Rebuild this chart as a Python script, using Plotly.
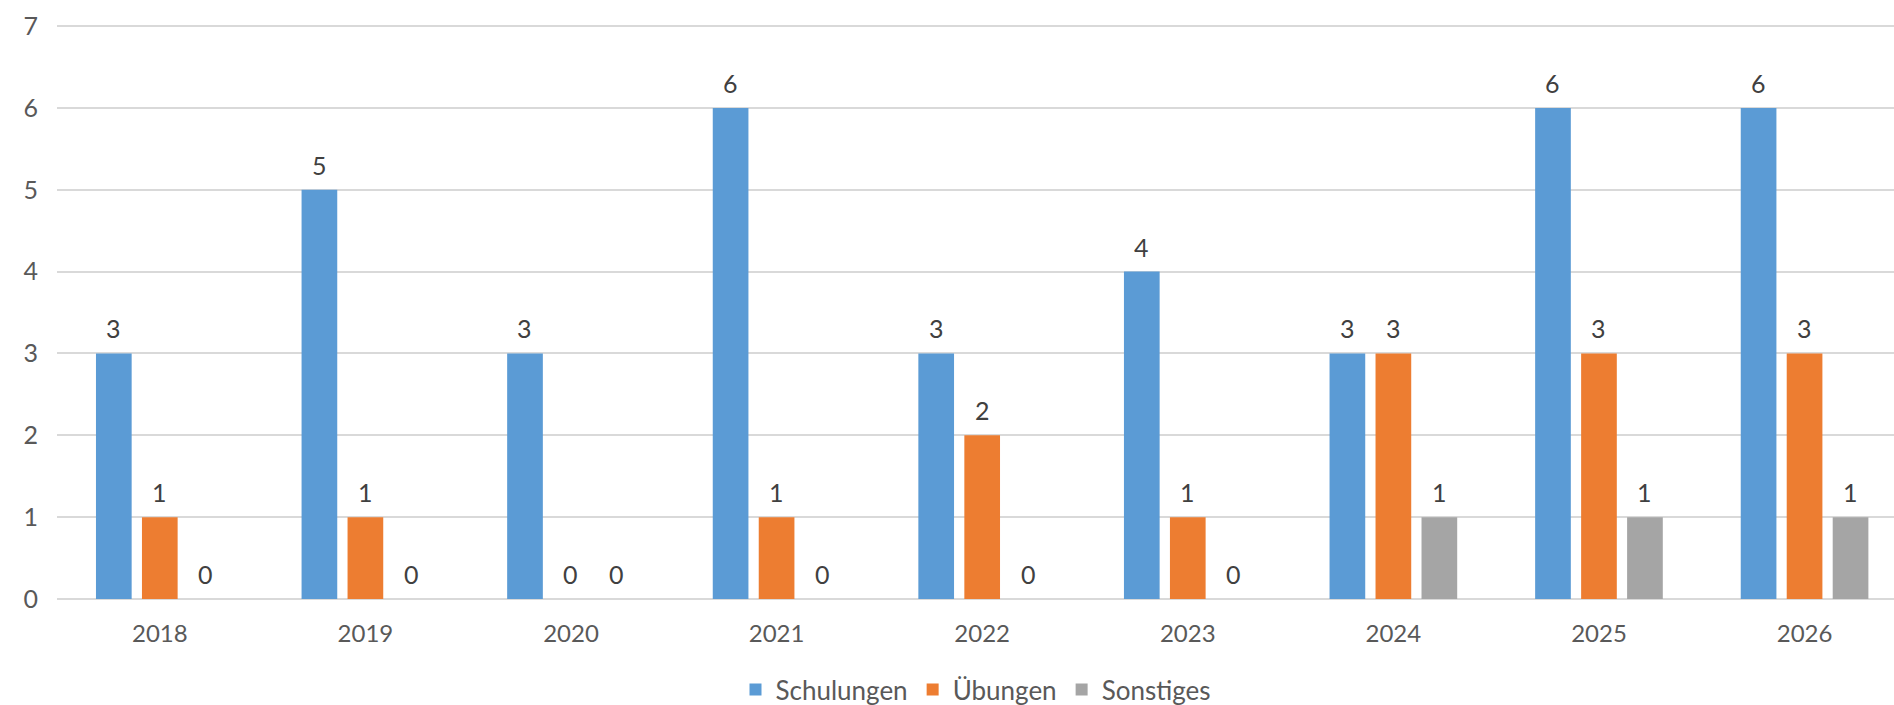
import plotly.graph_objects as go

years = ["2018", "2019", "2020", "2021", "2022", "2023", "2024", "2025", "2026"]
schulungen = [3, 5, 3, 6, 3, 4, 3, 6, 6]
uebungen = [1, 1, 0, 1, 2, 1, 3, 3, 3]
sonstiges = [0, 0, 0, 0, 0, 0, 1, 1, 1]

series = [
    ("Schulungen", schulungen, "#5B9BD5"),
    ("Übungen", uebungen, "#ED7D31"),
    ("Sonstiges", sonstiges, "#A5A5A5"),
]

FONT = "Lato"
TXT = "#595959"

fig = go.Figure()
for name, vals, col in series:
    fig.add_trace(go.Bar(
        name=name, x=years, y=vals, marker=dict(color=col, line=dict(width=0)),
    ))

slot = 46
annotations = []
for i, (name, vals, col) in enumerate(series):
    for j, v in enumerate(vals):
        annotations.append(dict(
            x=j, y=v, xref="x", yref="y", text=str(v), showarrow=False,
            xshift=(i - 1) * slot, yshift=8, yanchor="bottom",
            font=dict(family=FONT, size=25, color="#404040"),
        ))

fig.update_layout(
    width=1894, height=705,
    margin=dict(l=57, r=0, t=22, b=106),
    plot_bgcolor="white", paper_bgcolor="white",
    barmode="group", bargap=0.329, bargroupgap=0.224,
    font=dict(family=FONT, size=24, color=TXT),
    annotations=annotations,
    legend=dict(orientation="h", x=0.5, xanchor="center", yref="container", y=0.022,
                yanchor="middle",
                font=dict(family=FONT, size=26, color=TXT), itemwidth=30, tracegroupgap=0),
    xaxis=dict(type="category", range=[-0.5, 8.435], showgrid=False, showline=False,
               ticks="", ticklabelstandoff=18, tickfont=dict(size=24, color=TXT)),
    yaxis=dict(range=[0, 7.05], dtick=1, showgrid=True, gridcolor="#D9D9D9", gridwidth=1.5,
               zeroline=True, zerolinecolor="#D9D9D9", zerolinewidth=1.5, showline=False,
               ticks="", ticklabelstandoff=18, tickfont=dict(size=25, color=TXT)),
)

fig.write_html("out.html")
